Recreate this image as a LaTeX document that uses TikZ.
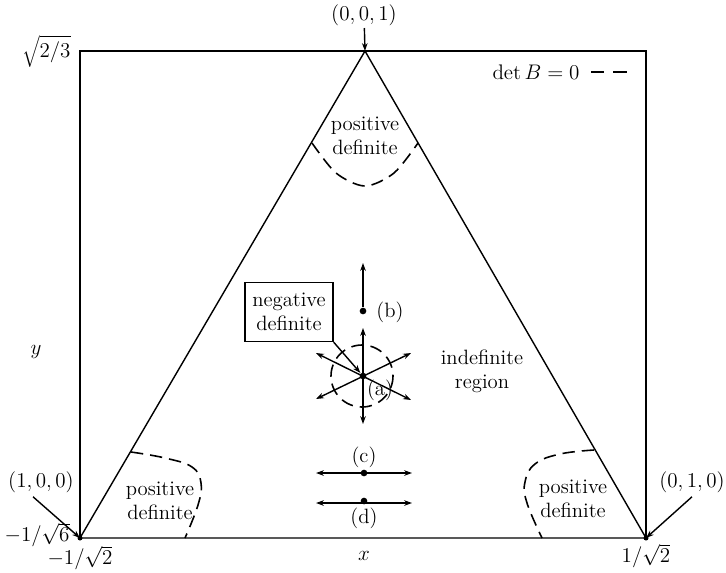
\documentclass[tikz,border=0pt]{standalone}
\usetikzlibrary{arrows.meta}
\begin{document}
\begin{tikzpicture}[x=0.02cm,y=-0.02cm, line width=0.8pt,
  lbl/.style={font=\fontsize{11.8}{13.5}\selectfont, align=center, inner sep=1pt},
  dsh/.style={dash pattern=on 7pt off 4pt, line width=0.9pt},
  tip/.style={-{Stealth[length=4.5pt,width=3.2pt]}},
  dtip/.style={{Stealth[length=4.5pt,width=3.2pt]}-{Stealth[length=4.5pt,width=3.2pt]}},
  pt/.style={circle, fill, inner sep=0pt, minimum size=3.8pt}]
\useasboundingbox (0,0) rectangle (726,572);
% frame and triangle
\coordinate (A) at (365,51);
\coordinate (L) at (80,538);
\coordinate (R) at (646,538);
\coordinate (TL) at (80,51);
\coordinate (TR) at (646,51);
\draw (L) -- (TL) -- (TR) -- (R);
\draw (L) -- (A) -- (R) -- cycle;
\fill (L) circle (2.5);
\fill (R) circle (2.5);
% vertex labels
\node[lbl] (n001) at (364,15) {$(0,0,1)$};
\draw[tip] (n001) -- (A);
\node[lbl] (n100) at (41,482) {$(1,0,0)$};
\draw[tip] ([xshift=-0.16cm,yshift=-1pt]n100.south) -- (L);
\node[lbl] (n010) at (692,482) {$(0,1,0)$};
\draw[tip] ([yshift=-1pt]n010.south) -- (R);
% axis labels
\node[lbl, anchor=east] (ytop) at (73,51) {$\sqrt{2/3}$};
\node[lbl, anchor=east] (ybot) at (72,535) {$-1/\sqrt{6}$};
\node[lbl] (xl) at (80,558) {$-1/\sqrt{2}$};
\node[lbl] (xr) at (646,556) {$1/\sqrt{2}$};
\node[lbl] (xax) at (364,556) {$x$};
\node[lbl] (yax) at (36,352) {$y$};
% legend
\node[lbl, anchor=east] (leg) at (582,72) {$\det B = 0$};
\coordinate (lg1) at (591,72);
\coordinate (lg2) at (604,72);
\coordinate (lg3) at (613,72);
\coordinate (lg4) at (627,72);
\draw[line width=1.1pt] (lg1) -- (lg2) (lg3) -- (lg4);
% positive definite regions
\draw[dsh] plot[smooth] coordinates {(312,143) (336,173) (365,186) (394,173) (418,143)};
\node[lbl] (pd1) at (365,136) {positive\\definite};
\draw[dsh] plot[smooth, tension=0.7] coordinates {(131,452) (165,458) (192,467) (201,483) (198,505) (185,538)};
\node[lbl] (pd2) at (160,501) {positive\\definite};
\draw[dsh] plot[smooth, tension=0.7] coordinates {(594,450) (560,454) (535,464) (525,482) (527,503) (542,538)};
\node[lbl] (pd3) at (573,499) {positive\\definite};
% indefinite
\node[lbl] (ind) at (482,371) {indefinite\\region};
% point b
\node[pt] (b) at (363,311) {};
\coordinate (bt) at (363,263);
\draw[tip] (b) -- (bt);
\node[lbl] (bl) at (390,312) {(b)};
% point a
\node[pt] (a) at (363,376) {};
\draw[dsh] (362,376) circle (31);
\coordinate (au) at (363,328);
\coordinate (ad) at (363,424);
\coordinate (aul) at (316,353);
\coordinate (adr) at (411,400);
\coordinate (aur) at (411,353);
\coordinate (adl) at (316,399);
\draw[dtip] (au) -- (ad);
\draw[dtip] (aul) -- (adr);
\draw[dtip] (aur) -- (adl);
\node[lbl] (al) at (380,390) {(a)};
% negative definite box
\node[lbl, draw, minimum width=1.76cm, minimum height=1.18cm] (neg) at (289,312) {negative\\definite};
\draw[tip] (neg.south east) -- (a);
% points c, d
\node[pt] (c) at (364,473) {};
\coordinate (cl) at (316,473);
\coordinate (cr) at (412,473);
\draw[dtip] (cl) -- (cr);
\node[lbl] (clab) at (364,457) {(c)};
\node[pt] (d) at (364,501) {};
\coordinate (dl) at (316,503);
\coordinate (dr) at (412,503);
\draw[dtip] (dl) -- (dr);
\node[lbl] (dlab) at (364,518) {(d)};
\end{tikzpicture}
\end{document}
